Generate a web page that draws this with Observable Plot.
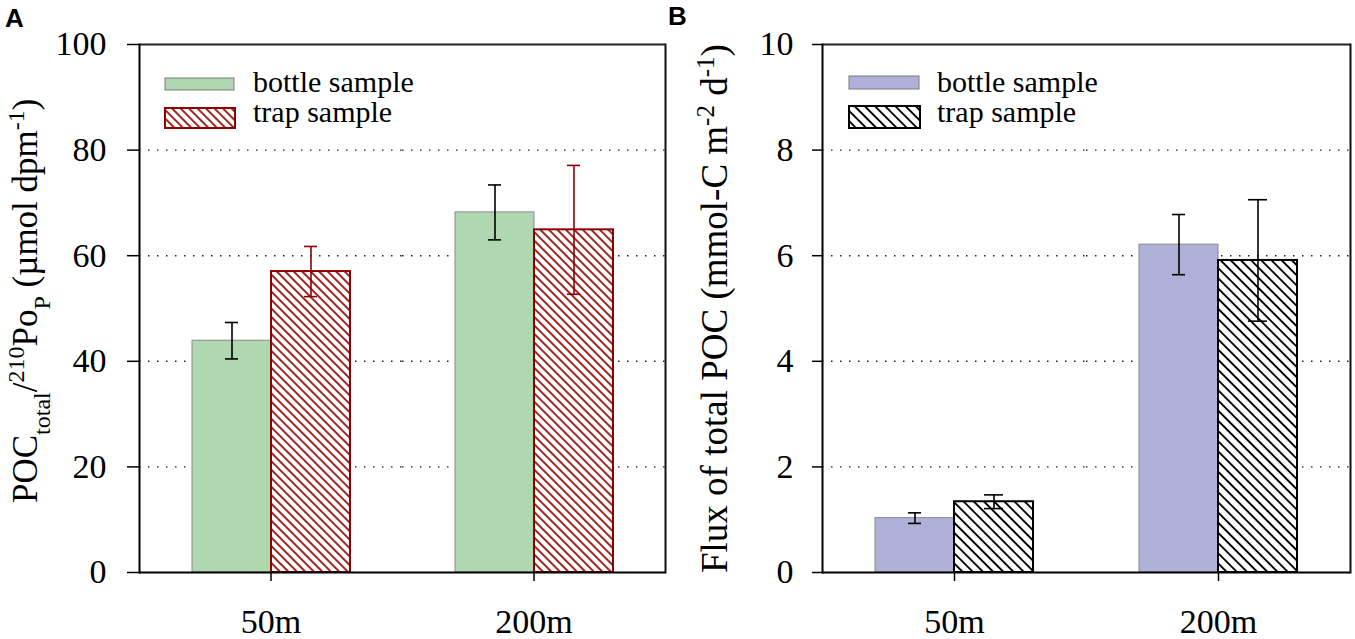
<!DOCTYPE html>
<html><head><meta charset="utf-8">
<script src="https://cdn.jsdelivr.net/npm/d3@7"></script>
<script src="https://cdn.jsdelivr.net/npm/@observablehq/plot@0.6"></script>
<style>
body{margin:0;background:#fff;width:1355px;height:639px;overflow:hidden;position:relative;font-family:"Liberation Serif","Times New Roman",serif;}
#a{position:absolute;left:0;top:0}
#b{position:absolute;left:680px;top:0}
#overlay{position:absolute;left:0;top:0;pointer-events:none}
svg text, svg tspan{font-family:"Liberation Serif","Times New Roman",serif !important;}
svg text.letter{font-family:"Liberation Sans",Arial,sans-serif !important;font-weight:bold;}
</style></head><body>
<div id="a"></div><div id="b"></div>
<svg id="overlay" width="1355" height="639" xmlns="http://www.w3.org/2000/svg">
  <defs>
    <pattern id="hatchA" patternUnits="userSpaceOnUse" width="6" height="6" patternTransform="rotate(-45)">
      <rect width="6" height="6" fill="#fff"/>
      <line x1="3" y1="-1" x2="3" y2="7" stroke="#8f0000" stroke-width="1.7"/>
    </pattern>
    <pattern id="hatchB" patternUnits="userSpaceOnUse" width="7.2" height="7.2" patternTransform="rotate(-45)">
      <rect width="7.2" height="7.2" fill="#fff"/>
      <line x1="3.6" y1="-1" x2="3.6" y2="8.2" stroke="#000" stroke-width="1.9"/>
    </pattern>
  </defs>
  <text class="letter" x="5" y="27" font-size="26">A</text>
  <text class="letter" x="668" y="25" font-size="26">B</text>
  <text transform="translate(37,503) rotate(-90)" font-size="35">POC<tspan baseline-shift="sub" font-size="24">total</tspan>/<tspan baseline-shift="super" font-size="24">210</tspan>Po<tspan baseline-shift="sub" font-size="24">P</tspan> (µmol dpm<tspan baseline-shift="super" font-size="24">-1</tspan>)</text>
  <text transform="translate(727,573) rotate(-90)" font-size="37">Flux of total POC (mmol-C m<tspan baseline-shift="super" font-size="25">-2</tspan> d<tspan baseline-shift="super" font-size="25">-1</tspan>)</text>
  <g id="legA">
    <rect x="165" y="78" width="69" height="12" fill="#b0d8b0" stroke="#7a7a7a" stroke-width="1"/>
    <rect x="165" y="108" width="70" height="20" fill="url(#hatchA)" stroke="#8f0000" stroke-width="2"/>
    <text x="253" y="92" font-size="30">bottle sample</text>
    <text x="253" y="122" font-size="30">trap sample</text>
  </g>
  <g id="legB">
    <rect x="849" y="76" width="70" height="13" fill="#b0b0d8" stroke="#7a7a7a" stroke-width="1"/>
    <rect x="849" y="106" width="71" height="22" fill="url(#hatchB)" stroke="#000" stroke-width="2"/>
    <text x="937" y="92" font-size="30">bottle sample</text>
    <text x="937" y="122" font-size="30">trap sample</text>
  </g>
</svg>
<script>
const depths = ["50m", "200m"];
const samples = ["bottle sample", "trap sample"];
// Panel A: POC_total / 210Po_P (µmol dpm-1)
const ratioBottle = [43.9, 68.2];
const ratioBottleSd = [3.45, 5.2];
const ratioTrap = [57.0, 64.9];
const ratioTrapSd = [4.75, 12.2];
const ticksA = [0, 20, 40, 60, 80, 100];
const gridA = [20, 40, 60, 80];
// Panel B: Flux of total POC (mmol-C m-2 d-1)
const fluxBottle = [1.03, 6.21];
const fluxBottleSd = [0.1, 0.57];
const fluxTrap = [1.34, 5.91];
const fluxTrapSd = [0.13, 1.15];
const ticksB = [0, 2, 4, 6, 8, 10];
const gridB = [2, 4, 6, 8];

function rowsOf(bottle, bottleSd, trap, trapSd) {
  return depths.flatMap((d, i) => [
    {depth: d, sample: samples[0], value: bottle[i], sd: bottleSd[i]},
    {depth: d, sample: samples[1], value: trap[i], sd: trapSd[i]}
  ]);
}

function panel(o) {
  const bottle = o.rows.filter(r => r.sample === samples[0]);
  const trap = o.rows.filter(r => r.sample === samples[1]);
  const lo = d => d.value - d.sd, hi = d => d.value + d.sd;
  const bw = 80;
  return Plot.plot({
    width: o.width, height: 639,
    marginLeft: o.marginLeft, marginRight: o.marginRight, marginTop: 44, marginBottom: 67,
    style: {fontFamily: "'Liberation Serif', 'Times New Roman', serif", fontSize: "34px", background: "transparent", color: "#000"},
    fx: {domain: depths, padding: 0},
    x: {domain: samples, paddingInner: 0, paddingOuter: o.po, axis: null},
    y: {domain: o.domain},
    marks: [
      Plot.ruleY(o.grid, {stroke: "#222", strokeWidth: 1.4, strokeDasharray: "1.5,7.5"}),
      Plot.barY(bottle, {fx: "depth", x: "sample", y: "value", fill: o.bottleFill, stroke: "#8a8a8a", strokeWidth: 1}),
      Plot.barY(trap, {fx: "depth", x: "sample", y: "value", fill: o.trapFill, stroke: o.trapStroke, strokeWidth: 2}),
      Plot.ruleX(bottle, {fx: "depth", x: "sample", y1: lo, y2: hi, stroke: o.bottleErr, strokeWidth: 1.6}),
      Plot.tickY(bottle, {fx: "depth", x: "sample", y: hi, stroke: o.bottleErr, strokeWidth: 1.6, insetLeft: (bw - o.capB) / 2, insetRight: (bw - o.capB) / 2}),
      Plot.tickY(bottle, {fx: "depth", x: "sample", y: lo, stroke: o.bottleErr, strokeWidth: 1.6, insetLeft: (bw - o.capB) / 2, insetRight: (bw - o.capB) / 2}),
      Plot.ruleX(trap, {fx: "depth", x: "sample", y1: lo, y2: hi, stroke: o.trapErr, strokeWidth: 1.6}),
      Plot.tickY(trap, {fx: "depth", x: "sample", y: hi, stroke: o.trapErr, strokeWidth: 1.6, insetLeft: (bw - o.capT) / 2, insetRight: (bw - o.capT) / 2}),
      Plot.tickY(trap, {fx: "depth", x: "sample", y: lo, stroke: o.trapErr, strokeWidth: 1.6, insetLeft: (bw - o.capT) / 2, insetRight: (bw - o.capT) / 2}),
      Plot.ruleY([o.domain[0]], {stroke: "#000", strokeWidth: 2}),
      Plot.ruleY([o.domain[1]], {stroke: "#222", strokeWidth: 2}),
      Plot.frame({anchor: "left", facetAnchor: "left", stroke: "#000", strokeWidth: 2}),
      Plot.frame({anchor: "right", facetAnchor: "right", stroke: "#111", strokeWidth: 2}),
      Plot.axisY({ticks: o.ticks, tickSize: o.tickSize, tickPadding: o.tickPadding, label: null, fontSize: 34, strokeWidth: 1.5, facetAnchor: "left"}),
      Plot.axisFx({anchor: "bottom", tickSize: 9, tickPadding: 27, label: null, fontSize: 34, strokeWidth: 1.5})
    ]
  });
}

document.getElementById("a").append(panel({
  rows: rowsOf(ratioBottle, ratioBottleSd, ratioTrap, ratioTrapSd),
  width: 680, marginLeft: 138, marginRight: 15, po: 0.647,
  domain: [0, 100], ticks: ticksA, grid: gridA,
  bottleFill: "#b0d8b0", trapFill: "url(#hatchA)", trapStroke: "#8f0000",
  bottleErr: "#000", trapErr: "#8f0000", capB: 14, capT: 14,
  tickSize: 12, tickPadding: 21
}));
document.getElementById("b").append(panel({
  rows: rowsOf(fluxBottle, fluxBottleSd, fluxTrap, fluxTrapSd),
  width: 675, marginLeft: 141, marginRight: 5, po: 0.653,
  domain: [0, 10], ticks: ticksB, grid: gridB,
  bottleFill: "#b0b0d8", trapFill: "url(#hatchB)", trapStroke: "#000",
  bottleErr: "#000", trapErr: "#000", capB: 14, capT: 20,
  tickSize: 10, tickPadding: 19
}));
</script>
</body></html>
